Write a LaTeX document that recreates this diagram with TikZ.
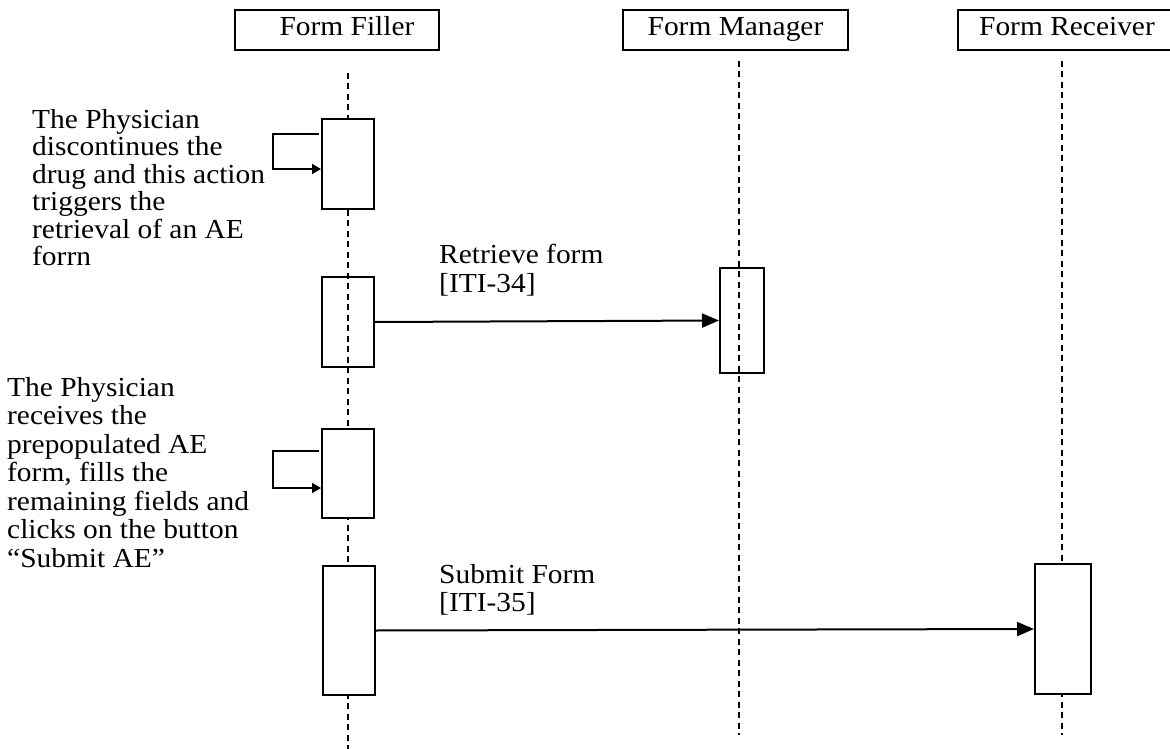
\documentclass[tikz,border=0pt]{standalone}
\usepackage{fontspec}
\setmainfont{Liberation Serif}[FakeStretch=1.07]
\usetikzlibrary{arrows.meta}
\newcommand\dgmfont{\fontsize{27.5}{28}\selectfont}
\begin{document}
\begin{tikzpicture}[x=1pt,y=-1pt,
  hdr/.style={draw, line width=2.4pt, minimum height=40pt, inner sep=0pt,
              text height=18pt, text depth=6pt, font=\dgmfont},
  act/.style={draw, line width=2pt, minimum width=52pt, inner sep=0pt},
  life/.style={line width=2pt, dash pattern=on 6pt off 4.5pt},
  msg/.style={line width=2pt, -{Triangle[length=17pt,width=14pt]}},
  selfmsg/.style={line width=1.8pt, -{Triangle[length=9pt,width=10pt]}},
  note/.style={align=left, inner sep=0pt, anchor=base west, font=\dgmfont}]
\useasboundingbox (0,0) rectangle (1170,749);

% headers
\node[hdr, minimum width=204pt] (ff) at (337,30) {\hspace*{20pt}Form Filler};
\node[hdr, minimum width=225pt] (fm) at (735.5,30) {Form Manager};
\node[hdr, minimum width=218pt] (fr) at (1067,30) {Form Receiver};

% lifelines
\coordinate (fftop) at (348,73);
\coordinate (ffbot) at (348,752);
\coordinate (fmtop) at (739,61);
\coordinate (fmbot) at (739,735);
\coordinate (frtop) at (1062,61);
\coordinate (frbot) at (1062,735);
\draw[life] (fftop) -- (ffbot);
\draw[life] (fmtop) -- (fmbot);
\draw[life] (frtop) -- (frbot);

% activations
\node[act, fill=white, minimum height=90pt] (a1) at (348,164) {};
\node[act, minimum height=90pt] (a2) at (348,322) {};
\node[act, fill=white, minimum height=89pt] (a3) at (348,473.5) {};
\node[act, fill=white, minimum height=129pt] (a4) at (348.5,630.5) {};
\node[act, minimum width=44pt, minimum height=105pt] (m1) at (742,320.5) {};
\node[act, fill=white, minimum width=56pt, minimum height=130pt] (r1) at (1063,629) {};

% self messages
\coordinate (s1start) at (319,134);
\coordinate (s1corner) at (273,169);
\draw[selfmsg] (s1start) -| (s1corner) -- (a1.west |- s1corner);
\coordinate (s2start) at (319,451);
\coordinate (s2corner) at (273,488);
\draw[selfmsg] (s2start) -| (s2corner) -- (a3.west |- s2corner);

% messages
\draw[msg] (a2.east) -- (m1.west);
\draw[msg] (a4.east) -- (r1.west);

% labels (anchored at the baseline of their last line)
\node[note, font=\fontsize{27.5}{27.5}\selectfont] (t1) at (32,265.5) {The Physician\\discontinues the\\drug and this action\\triggers the\\retrieval of an AE\\forrn};
\node[note, font=\fontsize{27.5}{28.5}\selectfont] (t2) at (7,567) {The Physician\\receives the\\prepopulated AE\\form, fills the\\remaining fields and\\clicks on the button\\“Submit AE”};
\node[note, font=\fontsize{27.5}{29}\selectfont] (l1) at (439,292) {Retrieve form\\{[ITI-34]}};
\node[note, font=\fontsize{27.5}{28}\selectfont] (l2) at (439,611) {Submit Form\\{[ITI-35]}};
\end{tikzpicture}
\end{document}
